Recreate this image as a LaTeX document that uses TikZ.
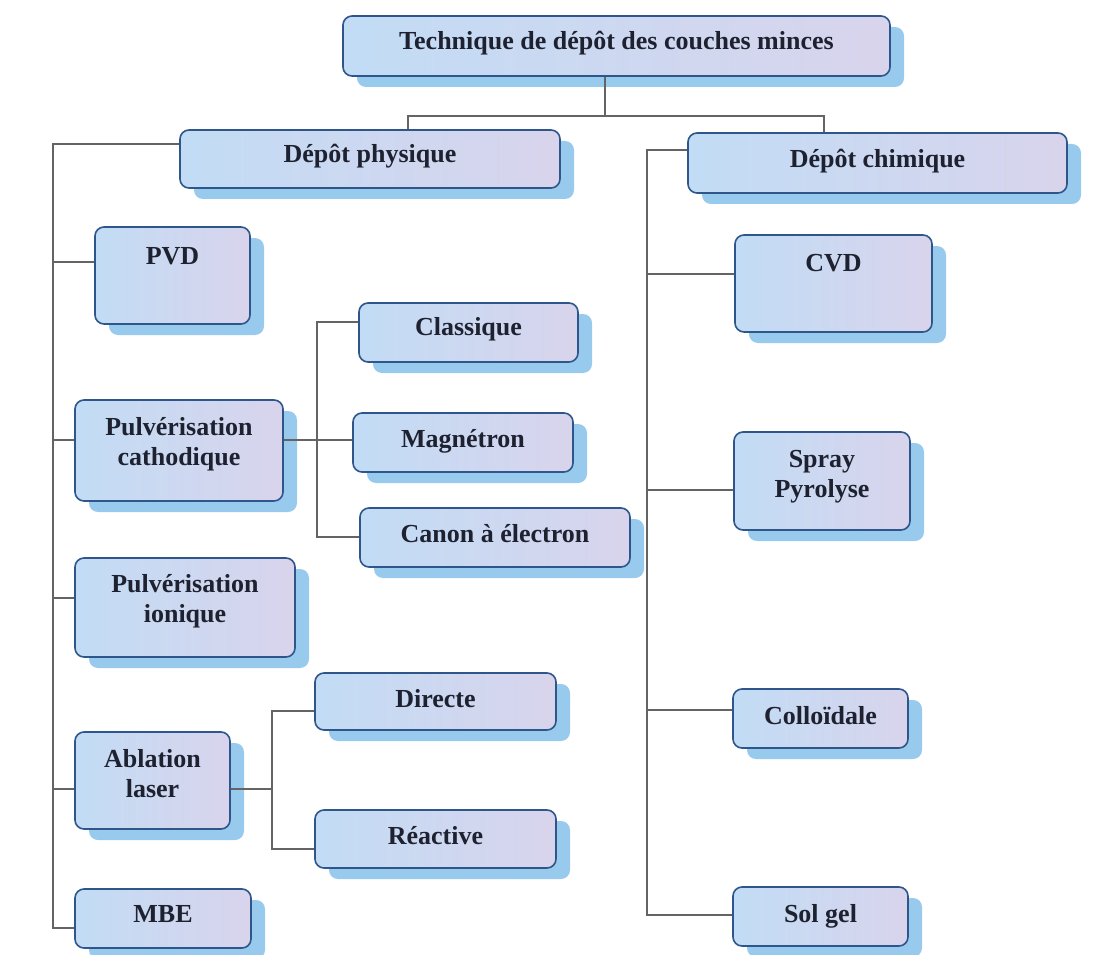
\documentclass[tikz,border=0pt]{standalone}
\usepackage{fontspec}
\setmainfont{Liberation Serif}
\definecolor{shadowc}{RGB}{152,202,238}
\definecolor{borderc}{RGB}{46,86,138}
\definecolor{fillA}{RGB}{194,220,245}
\definecolor{fillB}{RGB}{216,212,236}
\definecolor{linec}{RGB}{100,100,100}
\definecolor{textc}{RGB}{30,34,48}
\pgfdeclarelayer{back}
\pgfdeclarelayer{sh}
\pgfdeclarelayer{bg}
\pgfsetlayers{back,sh,bg,main}
\tikzset{
  boxst/.style={draw=borderc, line width=1.6pt, rounded corners=9pt, left color=fillA, right color=fillB, inner sep=0pt, rectangle},
  shadowst/.style={fill=shadowc, rounded corners=9pt},
  txt/.style={font=\fontsize{26}{30}\selectfont\bfseries, text=textc, align=center, inner sep=0pt},
  conn/.style={draw=linec, line width=1.3pt},
}
\newcommand\mkbox[7]{%
  \begin{pgfonlayer}{sh}
    \fill[shadowst] (#2+14,#3+11) rectangle (#4+14,#5+11);
  \end{pgfonlayer}
  \node[boxst, minimum width={(#4-#2)*1pt}, minimum height={(#5-#3)*1pt}] (#1) at ({(#2+#4)/2},{(#3+#5)/2}) {};
  \node[txt] (#1t) at ({(#2+#4)/2},#6) {#7};
}
\begin{document}
\begin{tikzpicture}[x=1pt,y=-1pt]
\begin{pgfonlayer}{back}
\fill[white] (0,0) rectangle (1104,955);
\end{pgfonlayer}
\path[use as bounding box] (0,0) rectangle (1104,955);

\mkbox{top}{343}{16}{890}{76}{43}{Technique de dépôt des couches minces}
\mkbox{phys}{180}{130}{560}{188}{156}{Dépôt physique}
\mkbox{chim}{688}{133}{1067}{193}{161}{Dépôt chimique}
\mkbox{pvd}{95}{227}{250}{324}{256}{PVD}
\mkbox{cath}{75}{400}{283}{501}{444}{Pulvérisation\\cathodique}
\mkbox{ion}{75}{558}{295}{657}{601}{Pulvérisation\\ionique}
\mkbox{abl}{75}{732}{230}{829}{774}{Ablation\\laser}
\mkbox{mbe}{75}{889}{251}{948}{914}{MBE}
\mkbox{clas}{359}{303}{578}{362}{329}{Classique}
\mkbox{mag}{353}{413}{573}{472}{441}{Magnétron}
\mkbox{can}{360}{508}{630}{567}{534}{Canon à électron}
\mkbox{dir}{315}{673}{556}{730}{699}{Directe}
\mkbox{rea}{315}{810}{556}{868}{836}{Réactive}
\mkbox{cvd}{735}{235}{932}{332}{263}{CVD}
\mkbox{spr}{734}{432}{910}{530}{477}{Spray\\Pyrolyse}
\mkbox{col}{733}{689}{908}{748}{716}{Colloïdale}
\mkbox{sol}{733}{887}{908}{946}{916}{Sol gel}

\coordinate (j0) at (605,116);
\coordinate (jL) at (408,116);
\coordinate (jR) at (824,116);
\coordinate (L0) at (53,144);
\coordinate (L1) at (53,262);
\coordinate (L2) at (53,440);
\coordinate (L3) at (53,598);
\coordinate (L4) at (53,789);
\coordinate (L5) at (53,928);
\coordinate (S0) at (317,322);
\coordinate (S1) at (317,440);
\coordinate (S2) at (317,537);
\coordinate (T0) at (272,711);
\coordinate (T1) at (272,789);
\coordinate (T2) at (272,849);
\coordinate (R0) at (647,150);
\coordinate (R1) at (647,274);
\coordinate (R2) at (647,490);
\coordinate (R3) at (647,710);
\coordinate (R4) at (647,915);

\begin{pgfonlayer}{bg}
\draw[conn] (top.south -| j0) -- (j0);
\draw[conn] (jL |- phys.north) -- (jL) -- (jR) -- (jR |- chim.north);
\draw[conn] (phys.west |- L0) -- (L0) -- (L5) -- (L5 -| mbe.west);
\draw[conn] (L1) -- (L1 -| pvd.west);
\draw[conn] (L2) -- (L2 -| cath.west);
\draw[conn] (L3) -- (L3 -| ion.west);
\draw[conn] (L4) -- (L4 -| abl.west);
\draw[conn] (clas.west |- S0) -- (S0) -- (S2) -- (S2 -| can.west);
\draw[conn] (cath.east |- S1) -- (S1 -| mag.west);
\draw[conn] (dir.west |- T0) -- (T0) -- (T2) -- (T2 -| rea.west);
\draw[conn] (abl.east |- T1) -- (T1);
\draw[conn] (chim.west |- R0) -- (R0) -- (R4) -- (R4 -| sol.west);
\draw[conn] (R1) -- (R1 -| cvd.west);
\draw[conn] (R2) -- (R2 -| spr.west);
\draw[conn] (R3) -- (R3 -| col.west);
\end{pgfonlayer}
\end{tikzpicture}
\end{document}
